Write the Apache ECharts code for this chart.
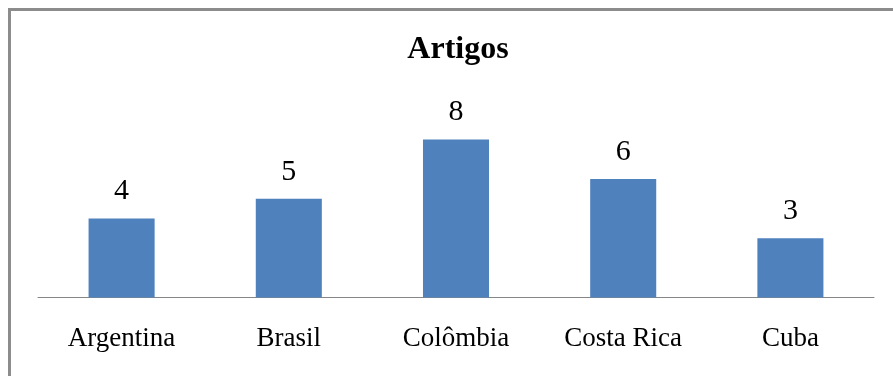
<!DOCTYPE html>
<html lang="pt">
<head>
  <meta charset="UTF-8" />
  <title>Artigos</title>
  <script src="https://cdn.jsdelivr.net/npm/echarts@6/dist/echarts.min.js"></script>
  <style>
    body { margin: 0; padding: 0; background: #fff; overflow: hidden; }
    #main { width: 893px; height: 376px; }
  </style>
</head>
<body>
  <div id="main"></div>
  <script>
    const paises = ['Argentina', 'Brasil', 'Colômbia', 'Costa Rica', 'Cuba'];
    const artigos = [4, 5, 8, 6, 3];

    const serif = "'Liberation Serif', 'Times New Roman', serif";
    let chart = echarts.init(document.getElementById('main'));

    chart.setOption({
      backgroundColor: '#fff',
      animation: false,
      title: {
        text: 'Artigos',
        left: 453,
        top: 29,
        textAlign: 'center',
        textStyle: {
          fontFamily: serif,
          fontWeight: 'bold',
          fontSize: 32,
          color: '#000'
        }
      },
      graphic: [{
        type: 'rect',
        shape: { x: 9.5, y: 9.5, width: 1000, height: 1000 },
        style: { fill: 'none', stroke: '#8c8c8c', lineWidth: 3 },
        silent: true
      }],
      grid: { left: 38, right: 19, top: 100, bottom: 78.5 },
      xAxis: {
        type: 'category',
        data: paises,
        axisLine: { show: true, lineStyle: { color: '#868686', width: 1 } },
        axisTick: { show: false },
        axisLabel: {
          color: '#000',
          fontFamily: serif,
          fontSize: 27,
          margin: 28
        }
      },
      yAxis: {
        type: 'value',
        min: 0,
        max: 10,
        show: false,
        splitLine: { show: false }
      },
      series: [{
        type: 'bar',
        data: artigos,
        barWidth: '39.5%',
        itemStyle: { color: '#4f81bd' },
        label: {
          show: true,
          position: 'top',
          distance: 12,
          color: '#000',
          fontFamily: serif,
          fontSize: 30
        }
      }]
    });
  </script>
</body>
</html>
